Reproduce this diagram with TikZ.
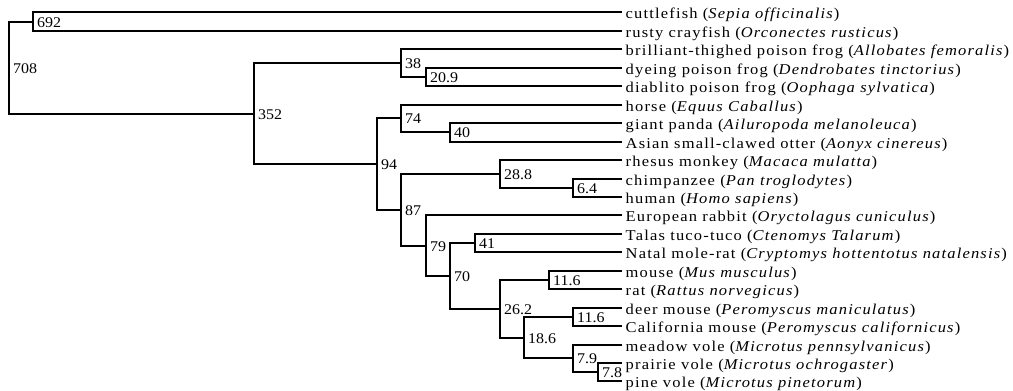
\documentclass[tikz,border=0pt]{standalone}
\usepackage{fontspec}
\setmainfont{Liberation Serif}
\newfontfamily\leaffont[FakeStretch=1.1,LetterSpace=7.8]{Liberation Serif}
\newfontfamily\numfont[FakeStretch=1.08]{Liberation Serif}
\begin{document}
\begin{tikzpicture}[x=1pt,y=-1pt,
  branch/.style={line width=2pt},
  leaflabel/.style={anchor=base west,inner sep=0pt,font=\leaffont\fontsize{15}{16}\selectfont},
  numlabel/.style={anchor=base west,inner sep=0pt,font=\numfont\fontsize{14.8}{16}\selectfont}]
\useasboundingbox (0,0) rectangle (1013,391);
% leaf ends
\def\lx{622}
\foreach \i/\y in {0/12,1/31,2/49,3/68,4/86,5/105,6/123,7/142,8/160,9/179,10/197,11/215,12/234,13/252,14/271,15/289,16/308,17/326,18/345,19/363,20/381}
  {\coordinate (l\i) at (\lx,\y);}
% leaf texts
\tikzset{lt/.style={leaflabel,xshift=3.5pt,yshift=-6.5pt}}
\node[lt] (t0) at (l0) {cuttlefish (\textit{Sepia officinalis})};
\node[lt] (t1) at (l1) {rusty crayfish (\textit{Orconectes rusticus})};
\node[lt] (t2) at (l2) {brilliant-thighed poison frog (\textit{Allobates femoralis})};
\node[lt] (t3) at (l3) {dyeing poison frog (\textit{Dendrobates tinctorius})};
\node[lt] (t4) at (l4) {diablito poison frog (\textit{Oophaga sylvatica})};
\node[lt] (t5) at (l5) {horse (\textit{Equus Caballus})};
\node[lt] (t6) at (l6) {giant panda (\textit{Ailuropoda melanoleuca})};
\node[lt] (t7) at (l7) {Asian small-clawed otter (\textit{Aonyx cinereus})};
\node[lt] (t8) at (l8) {rhesus monkey (\textit{Macaca mulatta})};
\node[lt] (t9) at (l9) {chimpanzee (\textit{Pan troglodytes})};
\node[lt] (t10) at (l10) {human (\textit{Homo sapiens})};
\node[lt] (t11) at (l11) {European rabbit (\textit{Oryctolagus cuniculus})};
\node[lt] (t12) at (l12) {Talas tuco-tuco (\textit{Ctenomys Talarum})};
\node[lt] (t13) at (l13) {Natal mole-rat (\textit{Cryptomys hottentotus natalensis})};
\node[lt] (t14) at (l14) {mouse (\textit{Mus musculus})};
\node[lt] (t15) at (l15) {rat (\textit{Rattus norvegicus})};
\node[lt] (t16) at (l16) {deer mouse (\textit{Peromyscus maniculatus})};
\node[lt] (t17) at (l17) {California mouse (\textit{Peromyscus californicus})};
\node[lt] (t18) at (l18) {meadow vole (\textit{Microtus pennsylvanicus})};
\node[lt] (t19) at (l19) {prairie vole (\textit{Microtus ochrogaster})};
\node[lt] (t20) at (l20) {pine vole (\textit{Microtus pinetorum})};
% internal nodes
\coordinate (n708) at (9,68);
\coordinate (n692) at (33,22);
\coordinate (n352) at (254,114);
\coordinate (n38) at (401,63);
\coordinate (n209) at (426,77);
\coordinate (n94) at (377,164);
\coordinate (n74) at (401,118);
\coordinate (n40) at (450,132);
\coordinate (n87) at (401,210);
\coordinate (n288) at (500,174);
\coordinate (n64) at (573,188);
\coordinate (n79) at (426,246);
\coordinate (n70) at (450,276);
\coordinate (n41) at (475,243);
\coordinate (n262) at (500,309);
\coordinate (n116a) at (549,280);
\coordinate (n186) at (524,338);
\coordinate (n116b) at (573,317);
\coordinate (n79b) at (573,358);
\coordinate (n78) at (598,372);
% branches
\draw[branch] (n692) -| (n708) (n352) -| (n708);
\draw[branch] (l0) -| (n692) (l1) -| (n692);
\draw[branch] (n38) -| (n352) (n94) -| (n352);
\draw[branch] (l2) -| (n38) (n209) -| (n38);
\draw[branch] (l3) -| (n209) (l4) -| (n209);
\draw[branch] (n74) -| (n94) (n87) -| (n94);
\draw[branch] (l5) -| (n74) (n40) -| (n74);
\draw[branch] (l6) -| (n40) (l7) -| (n40);
\draw[branch] (n288) -| (n87) (n79) -| (n87);
\draw[branch] (l8) -| (n288) (n64) -| (n288);
\draw[branch] (l9) -| (n64) (l10) -| (n64);
\draw[branch] (l11) -| (n79) (n70) -| (n79);
\draw[branch] (n41) -| (n70) (n262) -| (n70);
\draw[branch] (l12) -| (n41) (l13) -| (n41);
\draw[branch] (n116a) -| (n262) (n186) -| (n262);
\draw[branch] (l14) -| (n116a) (l15) -| (n116a);
\draw[branch] (n116b) -| (n186) (n79b) -| (n186);
\draw[branch] (l16) -| (n116b) (l17) -| (n116b);
\draw[branch] (l18) -| (n79b) (n78) -| (n79b);
\draw[branch] (l19) -| (n78) (l20) -| (n78);
% numeric labels
\foreach \n/\t in {708/708,692/692,352/352,38/38,209/20.9,94/94,74/74,40/40,87/87,288/28.8,64/6.4,79/79,70/70,41/41,262/26.2,116a/11.6,186/18.6,116b/11.6,79b/7.9,78/7.8}
  {\node[numlabel,xshift=4pt,yshift=-5pt] (lab\n) at (n\n) {\t};}
\end{tikzpicture}
\end{document}
